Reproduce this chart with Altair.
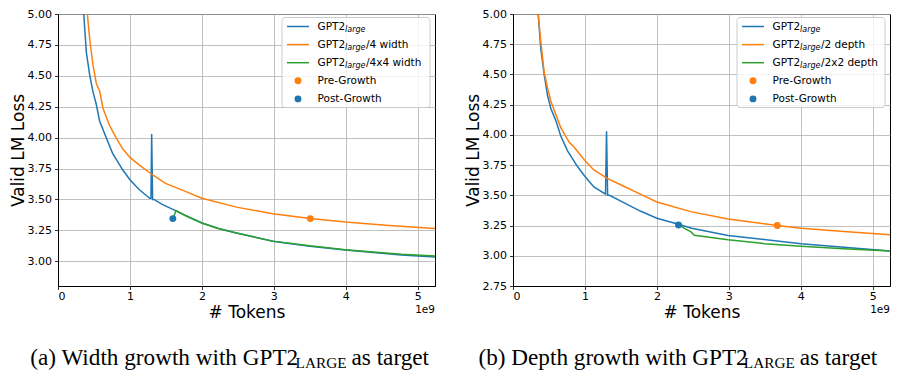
import altair as alt
import pandas as pd

# ---------------- data (tokens in units of 1e9) ----------------
# (a) width growth
a_large_x = [0.346, 0.358, 0.394, 0.44, 0.486, 0.532, 0.578, 0.67, 0.761, 0.899, 1.0, 1.128, 1.275, 1.292,
             1.302, 1.315, 1.334, 1.449, 1.632, 1.77, 2.0, 2.23, 2.48, 2.985, 3.5, 3.993, 4.773, 5.24]
a_large_y = [5.10, 5.0, 4.69, 4.51, 4.37, 4.27, 4.135, 4.00, 3.87, 3.74, 3.66, 3.58, 3.51, 3.51,
             4.03, 3.50, 3.50, 3.46, 3.41, 3.37, 3.31, 3.265, 3.228, 3.162, 3.122, 3.092, 3.050, 3.035]
a_small_x = [0.396, 0.408, 0.44, 0.486, 0.532, 0.56, 0.578, 0.624, 0.715, 0.807, 0.899, 1.0, 1.128, 1.311,
             1.495, 1.77, 2.0, 2.48, 2.985, 3.507, 3.993, 4.6, 5.24]
a_small_y = [5.10, 5.0, 4.80, 4.59, 4.44, 4.40, 4.38, 4.24, 4.10, 4.00, 3.91, 3.84, 3.78, 3.70,
             3.63, 3.565, 3.51, 3.438, 3.385, 3.345, 3.317, 3.29, 3.266]
a_grown_x = [1.60, 1.64, 1.77, 2.0, 2.23, 2.48, 2.985, 3.5, 3.993, 4.773, 5.24]
a_grown_y = [3.345, 3.41, 3.37, 3.31, 3.265, 3.229, 3.163, 3.125, 3.094, 3.056, 3.042]
a_pre = (3.507, 3.345)
a_post = (1.596, 3.345)

# (b) depth growth
b_large_x = [0.338, 0.35, 0.387, 0.433, 0.479, 0.525, 0.594, 0.664, 0.756, 0.894, 0.995, 1.124, 1.286,
             1.300, 1.315, 1.341, 1.539, 1.77, 2.0, 2.30, 2.484, 2.99, 4.004, 5.24]
b_large_y = [5.09, 5.0, 4.71, 4.50, 4.33, 4.22, 4.12, 3.99, 3.87, 3.74, 3.66, 3.57, 3.51,
             4.03, 3.50, 3.50, 3.44, 3.37, 3.31, 3.26, 3.228, 3.168, 3.10, 3.04]
b_small_x = [0.337, 0.35, 0.387, 0.433, 0.479, 0.525, 0.594, 0.664, 0.779, 0.848, 0.995, 1.124, 1.309,
             1.539, 1.77, 2.0, 2.484, 2.99, 3.673, 4.004, 4.6, 5.24]
b_small_y = [5.08, 5.0, 4.77, 4.52, 4.39, 4.28, 4.17, 4.06, 3.94, 3.90, 3.79, 3.71, 3.64,
             3.575, 3.51, 3.445, 3.363, 3.304, 3.25, 3.228, 3.20, 3.174]
b_grown_x = [2.30, 2.40, 2.47, 2.52, 2.99, 3.5, 4.004, 4.6, 5.24]
b_grown_y = [3.257, 3.22, 3.20, 3.17, 3.133, 3.10, 3.078, 3.058, 3.04]
b_pre = (3.673, 3.25)
b_post = (2.30, 3.255)

x_ticks = [0, 1, 2, 3, 4, 5]
a_y_ticks = [3.0, 3.25, 3.5, 3.75, 4.0, 4.25, 4.5, 4.75, 5.0]
b_y_ticks = [2.75, 3.0, 3.25, 3.5, 3.75, 4.0, 4.25, 4.5, 4.75, 5.0]
X_MAX = 5.24

# ---------------- styling ----------------
W, H = 377, 272
GAP = 78
BLUE, ORANGE, GREEN = "#1f77b4", "#ff7f0e", "#2ca02c"
SANS = "DejaVu Sans"
SERIF = "Liberation Serif"
one = pd.DataFrame({"k": [0]})


def panel(large, small, grown, pre, post, ymin, yticks, small_suffix, grown_suffix, cap_head, cap_tail, cap_x):
    xsc = alt.Scale(domain=[0, X_MAX], nice=False, zero=False)
    ysc = alt.Scale(domain=[ymin, 5.0], nice=False, zero=False)
    xax = alt.Axis(values=x_ticks, format="d", title="# Tokens")
    yax = alt.Axis(values=yticks, format=".2f", title="Valid LM Loss")
    enc = dict(x=alt.X("tokens:Q", scale=xsc, axis=xax), y=alt.Y("loss:Q", scale=ysc, axis=yax))

    def line(xy, color):
        df = pd.DataFrame({"tokens": xy[0], "loss": xy[1]})
        return alt.Chart(df).mark_line(color=color, strokeWidth=1.5, clip=True).encode(**enc)

    def dot(p, color):
        df = pd.DataFrame({"tokens": [p[0]], "loss": [p[1]]})
        return alt.Chart(df).mark_point(filled=True, size=48, opacity=1, color=color).encode(**enc)

    layers = [line(large, BLUE), line(small, ORANGE), line(grown, GREEN), dot(pre, ORANGE), dot(post, BLUE)]

    # legend
    layers.append(alt.Chart(one).mark_rect(fill="white", fillOpacity=0.8, stroke="#cccccc", strokeWidth=1,
                                           cornerRadius=3).encode(
        x=alt.value(W - 153), x2=alt.value(W - 5), y=alt.value(3.5), y2=alt.value(93.5)))
    rows = [12.5 + 18.1 * i for i in range(5)]
    tx = W - 117.5
    for i, (c, suffix) in enumerate([(BLUE, ""), (ORANGE, small_suffix), (GREEN, grown_suffix)]):
        ry = rows[i]
        layers.append(alt.Chart(one).mark_rule(color=c, strokeWidth=1.5).encode(
            x=alt.value(W - 148), x2=alt.value(W - 126), y=alt.value(ry)))
        layers.append(alt.Chart(one).mark_text(text="GPT2", align="left", baseline="middle", font=SANS,
                                               fontSize=10.5, color="black").encode(
            x=alt.value(tx), y=alt.value(ry)))
        layers.append(alt.Chart(one).mark_text(text="large", align="left", baseline="middle", font=SANS,
                                               fontSize=8, fontStyle="italic", color="black").encode(
            x=alt.value(tx + 27.6), y=alt.value(ry + 3)))
        if suffix:
            layers.append(alt.Chart(one).mark_text(text=suffix, align="left", baseline="middle", font=SANS,
                                                   fontSize=10.5, color="black").encode(
                x=alt.value(tx + 48.5), y=alt.value(ry)))
    for i, (c, lab) in enumerate([(ORANGE, "Pre-Growth"), (BLUE, "Post-Growth")]):
        ry = rows[3 + i]
        layers.append(alt.Chart(one).mark_point(filled=True, size=48, opacity=1, color=c).encode(
            x=alt.value(W - 137), y=alt.value(ry)))
        layers.append(alt.Chart(one).mark_text(text=lab, align="left", baseline="middle", font=SANS,
                                               fontSize=10.5, color="black").encode(
            x=alt.value(tx), y=alt.value(ry)))

    # offset label
    layers.append(alt.Chart(one).mark_text(text="1e9", align="right", baseline="alphabetic", font=SANS,
                                           fontSize=10.5, color="black").encode(
        x=alt.value(W), y=alt.value(H + 26.5)))

    # caption
    f, fs = 23.2, 15.3
    k = 0.985
    w_head = 11.61 * f * k
    w_sc = 3.333 * fs * k + 0.25 * f * k
    cy = H + 79
    layers.append(alt.Chart(one).mark_text(text=cap_head, align="left", baseline="alphabetic", font=SERIF,
                                           fontSize=f, color="black").encode(
        x=alt.value(cap_x), y=alt.value(cy)))
    layers.append(alt.Chart(one).mark_text(text="LARGE", align="left", baseline="alphabetic", font=SERIF,
                                           fontSize=fs, color="black").encode(
        x=alt.value(cap_x + w_head), y=alt.value(cy + 3)))
    layers.append(alt.Chart(one).mark_text(text=cap_tail, align="left", baseline="alphabetic", font=SERIF,
                                           fontSize=f, color="black").encode(
        x=alt.value(cap_x + w_head + w_sc), y=alt.value(cy)))

    return alt.layer(*layers).properties(width=W, height=H)


left = panel((a_large_x, a_large_y), (a_small_x, a_small_y), (a_grown_x, a_grown_y), a_pre, a_post,
             2.8, a_y_ticks, "/4 width", "/4x4 width",
             "(a) Width growth with GPT2", "as target", -27.7)
right = panel((b_large_x, b_large_y), (b_small_x, b_small_y), (b_grown_x, b_grown_y), b_pre, b_post,
              2.75, b_y_ticks, "/2 depth", "/2x2 depth",
              "(b) Depth growth with GPT2", "as target", -34.5)

chart = alt.hconcat(left, right, spacing=GAP, bounds="flush").properties(
    padding={"left": 0, "top": -1, "right": 0, "bottom": 0}
).configure_view(stroke="black", strokeWidth=1).configure_axis(
    grid=True, gridColor="#b0b0b0", gridWidth=0.8, domainColor="black", domainWidth=1,
    tickColor="black", tickSize=3.5, tickWidth=0.8,
    labelFont=SANS, labelFontSize=11, labelColor="black",
    titleFont=SANS, titleFontSize=17, titleFontWeight="normal", titleColor="black",
).configure_axisX(labelPadding=1, titlePadding=3).configure_axisY(labelPadding=3, titlePadding=0)

chart.save("out.html", embed_options={"renderer": "svg", "actions": False})
